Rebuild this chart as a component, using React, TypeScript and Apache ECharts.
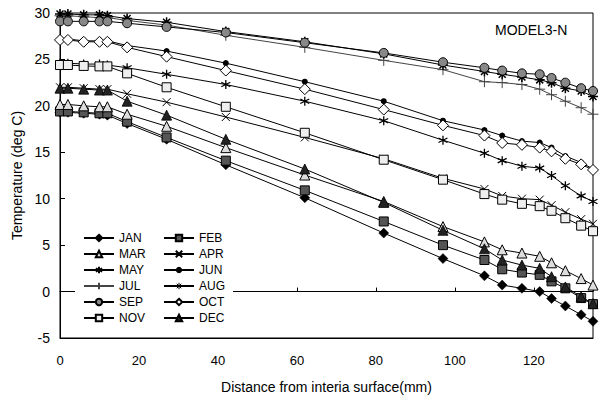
import React, { useEffect, useRef } from "react";
import * as echarts from "echarts";

const distances = [0, 2, 6, 10, 12, 17, 27, 42, 62, 82, 97, 107.5, 112, 117, 121.5, 124.5, 128, 132, 135];
const xTicks = [0, 20, 40, 60, 80, 100, 120];

const JAN = [19.3, 19.3, 19.2, 19.1, 19.0, 18.1, 16.4, 13.65, 10.1, 6.3, 3.55, 1.7, 0.7, 0.35, 0.0, -0.75, -1.55, -2.5, -3.2];
const FEB = [19.4, 19.4, 19.3, 19.2, 19.2, 18.3, 16.6, 14.1, 10.9, 7.55, 5.0, 3.4, 2.4, 2.05, 1.8, 1.1, 0.35, -0.7, -1.35];
const MAR = [20.15, 20.15, 20.0, 19.9, 19.9, 19.1, 17.8, 15.5, 12.55, 9.7, 7.0, 5.35, 4.5, 4.15, 3.8, 3.1, 2.25, 1.4, 0.7];
const APR = [22.0, 22.0, 21.9, 21.8, 21.8, 21.3, 20.4, 18.8, 16.6, 14.3, 12.2, 11.05, 10.3, 10.0, 9.9, 9.3, 8.55, 7.8, 7.3];
const MAY = [24.6, 24.6, 24.5, 24.5, 24.4, 24.1, 23.4, 22.3, 20.5, 18.4, 16.3, 14.9, 14.1, 13.5, 13.3, 12.5, 11.4, 10.3, 9.7];
const JUN = [27.2, 27.2, 27.0, 27.0, 27.0, 26.5, 25.9, 24.6, 22.6, 20.5, 18.4, 17.4, 16.8, 16.2, 16.05, 15.5, 14.6, 13.9, 13.2];
const JUL = [29.7, 29.7, 29.6, 29.5, 29.5, 29.2, 28.7, 27.6, 26.3, 24.9, 23.9, 22.6, 22.5, 22.3, 21.8, 21.2, 20.5, 19.8, 19.1];
const AUG = [29.9, 29.9, 29.8, 29.8, 29.7, 29.4, 29.0, 28.0, 26.9, 25.6, 24.4, 23.7, 23.4, 23.1, 22.8, 22.5, 21.9, 21.6, 21.0];
const SEP = [29.1, 29.1, 29.1, 29.1, 29.1, 28.9, 28.5, 27.9, 26.8, 25.7, 24.7, 24.1, 23.8, 23.5, 23.4, 23.0, 22.5, 21.9, 21.6];
const OCT = [27.1, 27.1, 26.9, 26.9, 26.9, 26.3, 25.3, 23.8, 21.8, 19.6, 17.9, 16.8, 16.0, 15.8, 15.5, 15.1, 14.3, 13.7, 13.1];
const NOV = [24.4, 24.4, 24.3, 24.25, 24.25, 23.5, 22.0, 19.9, 17.1, 14.2, 12.05, 10.5, 9.9, 9.45, 9.2, 8.7, 7.9, 7.1, 6.5];
const DEC = [21.9, 21.9, 21.8, 21.7, 21.7, 20.5, 19.0, 16.4, 13.2, 9.6, 6.6, 4.6, 3.4, 2.85, 2.5, 1.6, 0.5, -0.55, -1.3];

const CROSS = "path://M0,0L10,10M10,0L0,10";
const PLUS = "path://M5,0L5,10M1,5L9,5";
const STAR6 = "path://M5,0L5,10M0.7,2.5L9.3,7.5M0.7,7.5L9.3,2.5";
const STAR8 = "path://M5,0L5,10M0,5L10,5M1.5,1.5L8.5,8.5M8.5,1.5L1.5,8.5";

const FONT = "Liberation Sans, Arial, sans-serif";

type Spec = {
  name: string;
  data: number[];
  symbol: string;
  size: number;
  fill: string;
  border: string;
  bw: number;
  line?: string;
};

const specs: Spec[] = [
  { name: "JAN", data: JAN, symbol: "diamond", size: 10, fill: "#000", border: "#000", bw: 0.5 },
  { name: "FEB", data: FEB, symbol: "rect", size: 9, fill: "#555", border: "#000", bw: 1 },
  { name: "MAR", data: MAR, symbol: "triangle", size: 10, fill: "#ddd", border: "#000", bw: 1 },
  { name: "APR", data: APR, symbol: CROSS, size: 8, fill: "none", border: "#000", bw: 1 },
  { name: "MAY", data: MAY, symbol: STAR6, size: 9, fill: "none", border: "#000", bw: 1.3 },
  { name: "JUN", data: JUN, symbol: "circle", size: 6, fill: "#000", border: "#000", bw: 0 },
  { name: "JUL", data: JUL, symbol: PLUS, size: 11, fill: "none", border: "#444", bw: 1, line: "#444" },
  { name: "AUG", data: AUG, symbol: STAR8, size: 10, fill: "none", border: "#000", bw: 1.5 },
  { name: "SEP", data: SEP, symbol: "circle", size: 9, fill: "#888", border: "#000", bw: 1 },
  { name: "OCT", data: OCT, symbol: "diamond", size: 11, fill: "#fff", border: "#000", bw: 1 },
  { name: "NOV", data: NOV, symbol: "rect", size: 9, fill: "#eee", border: "#000", bw: 1 },
  { name: "DEC", data: DEC, symbol: "triangle", size: 10, fill: "#222", border: "#000", bw: 0.8 },
];

export default function App() {
  const ref = useRef<HTMLDivElement>(null);
  useEffect(() => {
    if (!ref.current) return;
    const chart = echarts.init(ref.current, undefined, { renderer: "svg" });
    const series = specs.map((s) => ({
      name: s.name,
      type: "line",
      data: distances.map((d, i) => [d, s.data[i]]),
      symbol: s.symbol,
      symbolSize: s.size,
      showAllSymbol: true,
      lineStyle: { color: s.line || "#000", width: 1 },
      itemStyle: { color: s.fill, borderColor: s.border, borderWidth: s.bw },
      emphasis: { disabled: true },
    }));
    const legendBase = {
      orient: "vertical" as const,
      itemWidth: 30,
      itemHeight: 8,
      itemGap: 4,
      backgroundColor: "#fff",
      textStyle: { fontFamily: FONT, fontSize: 12, color: "#000" },
    };
    chart.setOption({
      animation: false,
      backgroundColor: "#fff",
      grid: { left: 60, right: 10, top: 13, bottom: 59, show: true, borderColor: "#000", borderWidth: 1 },
      legend: [
        { ...legendBase, left: 75, top: 229, padding: [3, 18, 3, 8], data: ["JAN", "MAR", "MAY", "JUL", "SEP", "NOV"] },
        {
          ...legendBase,
          left: 160,
          top: 229,
          padding: [3, 8, 3, 3],
          data: ["FEB", "APR", "JUN", { name: "AUG", itemStyle: { borderWidth: 1 } }, "OCT", "DEC"],
        },
      ],
      xAxis: [
        {
          type: "value",
          min: 0,
          max: 135,
          interval: 20,
          position: "bottom",
          axisLine: { onZero: false, lineStyle: { color: "#000", width: 1 } },
          axisTick: { show: false },
          splitLine: { show: false },
          axisLabel: {
            margin: 16,
            fontFamily: FONT,
            fontSize: 13,
            color: "#000",
            showMaxLabel: false,
            formatter: (v: number) => (xTicks.includes(v) ? String(v) : ""),
          },
          name: "Distance from interia surface(mm)",
          nameLocation: "middle",
          nameGap: 42,
          nameTextStyle: { fontFamily: FONT, fontSize: 14, color: "#000" },
        },
        {
          type: "value",
          min: 0,
          max: 135,
          interval: 20,
          position: "bottom",
          axisLine: { onZero: true, lineStyle: { color: "#000", width: 1 } },
          axisTick: { show: true, inside: true, length: 4, lineStyle: { color: "#000" } },
          axisLabel: { show: false },
          splitLine: { show: false },
        },
      ],
      yAxis: {
        type: "value",
        min: -5,
        max: 30,
        interval: 5,
        axisLine: { show: true, lineStyle: { color: "#000", width: 1 } },
        axisTick: { show: true, inside: true, length: 5, lineStyle: { color: "#000" } },
        splitLine: { show: false },
        axisLabel: { margin: 10, fontFamily: FONT, fontSize: 14, color: "#000" },
        name: "Temperature (deg C)",
        nameLocation: "middle",
        nameGap: 35,
        nameTextStyle: { fontFamily: FONT, fontSize: 14, color: "#000" },
      },
      graphic: [
        {
          type: "text",
          x: 495,
          y: 30,
          style: { text: "MODEL3-N", font: `14px ${FONT}`, fill: "#000", textVerticalAlign: "middle" },
        },
      ],
      series,
    });
    return () => chart.dispose();
  }, []);
  return <div ref={ref} style={{ position: "absolute", left: 0, top: 0, width: 603, height: 399 }} />;
}
